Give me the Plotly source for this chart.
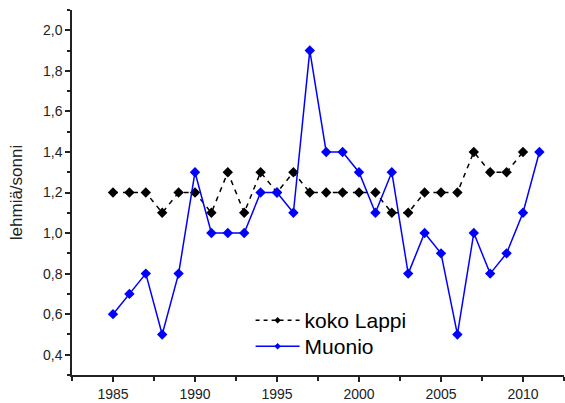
import plotly.graph_objects as go

years_lappi = list(range(1985, 2011))
koko_lappi = [1.2, 1.2, 1.2, 1.1, 1.2, 1.2, 1.1, 1.3, 1.1, 1.3, 1.2, 1.3, 1.2,
              1.2, 1.2, 1.2, 1.2, 1.1, 1.1, 1.2, 1.2, 1.2, 1.4, 1.3, 1.3, 1.4]
years_muonio = list(range(1985, 2012))
muonio = [0.6, 0.7, 0.8, 0.5, 0.8, 1.3, 1.0, 1.0, 1.0, 1.2, 1.2, 1.1, 1.9,
          1.4, 1.4, 1.3, 1.1, 1.3, 0.8, 1.0, 0.9, 0.5, 1.0, 0.8, 0.9, 1.1, 1.4]

FONT = "Liberation Sans, Arial"

fig = go.Figure()
fig.add_trace(go.Scatter(
    x=years_lappi, y=koko_lappi, name="koko Lappi", mode="lines+markers",
    line=dict(color="black", width=1.5, dash="5px,5px"),
    marker=dict(symbol="diamond", size=8, color="black"), showlegend=False,
))
fig.add_trace(go.Scatter(
    x=years_muonio, y=muonio, name="Muonio", mode="lines+markers",
    line=dict(color="#0000FF", width=1.5),
    marker=dict(symbol="diamond", size=8, color="#0000FF"), showlegend=False,
))
# legend entries (smaller markers, as in the reference legend)
fig.add_trace(go.Scatter(
    x=[None], y=[None], name="koko Lappi", mode="lines+markers",
    line=dict(color="black", width=1.5, dash="4px,4px"),
    marker=dict(symbol="diamond", size=5, color="black"), legend="legend",
))
fig.add_trace(go.Scatter(
    x=[None], y=[None], name="Muonio", mode="lines+markers",
    line=dict(color="#0000FF", width=1.5),
    marker=dict(symbol="diamond", size=5, color="#0000FF"), legend="legend2",
))

axis_common = dict(
    showgrid=False, zeroline=False, showline=True, linecolor="#222222",
    linewidth=1.5, ticks="outside", ticklen=5, tickwidth=1.5, tickcolor="#222222",
    tickfont=dict(family=FONT, size=14, color="#222222"),
)

legend_common = dict(
    xanchor="left", yanchor="middle",
    font=dict(size=21, family=FONT, color="black"),
    bgcolor="rgba(0,0,0,0)", itemwidth=44,
)

fig.update_layout(
    width=565, height=403,
    margin=dict(l=72, r=1, t=10, b=26),
    paper_bgcolor="white", plot_bgcolor="white",
    separators=",.",
    font=dict(family=FONT, color="black"),
    xaxis=dict(range=[1982.5, 2012.5], tickvals=[1985, 1990, 1995, 2000, 2005, 2010],
               minor=dict(tickvals=[1982.5, 1987.5, 1992.5, 1997.5, 2002.5, 2007.5, 2012.5],
                          ticks="outside", ticklen=4, tickwidth=1.5, tickcolor="#222222"),
               **axis_common),
    yaxis=dict(range=[0.3, 2.1], tickvals=[0.4, 0.6, 0.8, 1.0, 1.2, 1.4, 1.6, 1.8, 2.0],
               tickformat=".1f",
               minor=dict(tickvals=[0.3, 0.5, 0.7, 0.9, 1.1, 1.3, 1.5, 1.7, 1.9, 2.1],
                          ticks="outside", ticklen=3, tickwidth=1.5, tickcolor="#222222"),
               title=dict(text="lehmiä/sonni", font=dict(size=17, color="#222222"), standoff=16),
               automargin=False,
               **axis_common),
    legend=dict(x=0.363, y=0.149, **legend_common),
    legend2=dict(x=0.363, y=0.078, **legend_common),
    showlegend=True,
)

fig.write_html("out.html")
